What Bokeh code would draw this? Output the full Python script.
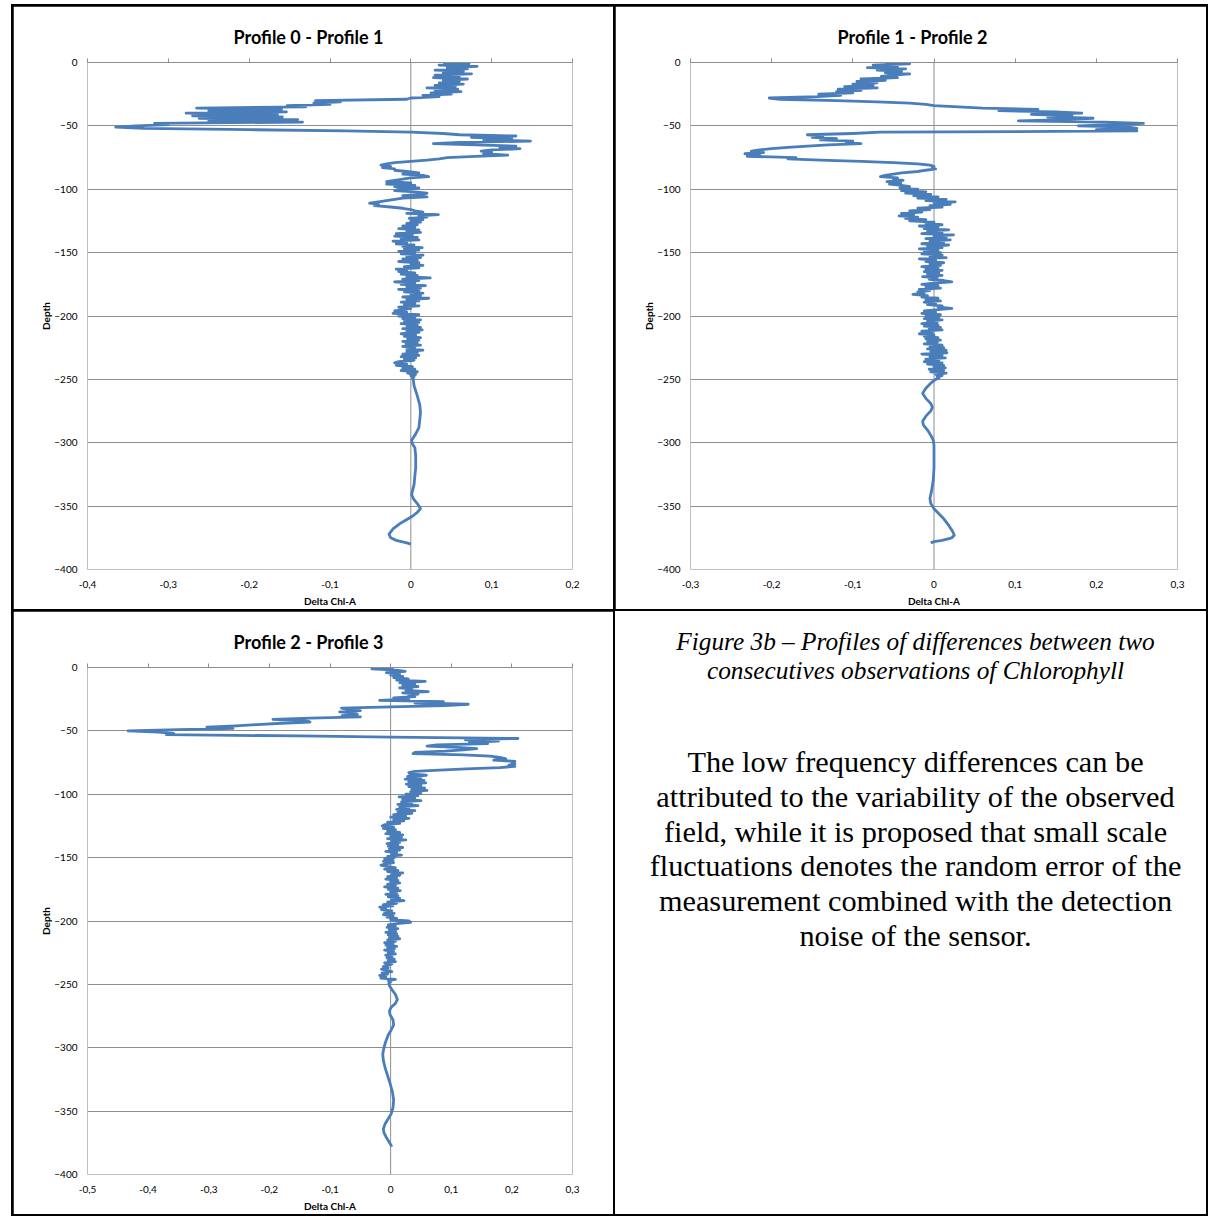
from bokeh.plotting import figure
from bokeh.models import Span, FixedTicker, CustomJSTickFormatter, LinearAxis, Range1d, Div
from bokeh.layouts import row, column
from bokeh.embed import file_html
from bokeh.resources import INLINE

# ---------------- data (depth [m], delta Chl-A) ----------------
profile_0_1 = [
    (0, 0.040), (-1, 0.072), (-2, 0.035), (-3, 0.082), (-4, 0.045), (-5, 0.070), (-6, 0.030), (-7, 0.065), (-8, 0.040), (-9, 0.075),
    (-10, 0.030), (-11, 0.060), (-12, 0.028), (-13, 0.070), (-14, 0.040), (-15, 0.060), (-16, 0.035), (-17, 0.065), (-18, 0.030), (-19, 0.055),
    (-20, 0.020), (-21, 0.058), (-22, 0.030), (-23, 0.062), (-24, 0.025), (-25, 0.050), (-26, 0.015), (-27, 0.035), (-28, 0.000), (-29, -0.005),
    (-30, -0.118), (-31, -0.087), (-32, -0.120), (-33, -0.100), (-34, -0.153), (-35, -0.130), (-36, -0.265), (-37, -0.160), (-38, -0.250), (-39, -0.154),
    (-40, -0.278), (-41, -0.165), (-42, -0.270), (-43, -0.159), (-44, -0.262), (-45, -0.140), (-46, -0.250), (-47, -0.134), (-48, -0.317), (-49, -0.300),
    (-50, -0.340), (-51, -0.365), (-52, -0.330), (-53, -0.200), (-54, -0.080), (-55, 0.000), (-56, 0.040), (-57, 0.060), (-58, 0.130), (-59, 0.075),
    (-60, 0.125), (-61, 0.090), (-62, 0.148), (-63, 0.060), (-64, 0.028), (-65, 0.080), (-66, 0.130), (-67, 0.110), (-68, 0.135), (-69, 0.100),
    (-70, 0.087), (-71, 0.100), (-72, 0.090), (-73, 0.120), (-74, 0.080), (-75, 0.045), (-76, 0.035), (-77, 0.020), (-78, 0.000), (-79, -0.020),
    (-80, -0.030), (-81, -0.037), (-82, -0.025), (-83, -0.035), (-84, -0.020), (-85, -0.020), (-86, -0.005), (-87, 0.010), (-88, -0.010), (-89, 0.015),
    (-90, 0.022), (-91, 0.000), (-92, -0.010), (-93, -0.020), (-94, -0.030), (-95, 0.000), (-96, -0.030), (-97, 0.005), (-98, -0.020), (-99, 0.010),
    (-100, -0.015), (-101, -0.020), (-102, 0.005), (-103, 0.020), (-104, 0.015), (-105, -0.010), (-106, 0.020), (-107, -0.010), (-108, -0.020), (-109, -0.030),
    (-110, -0.040), (-111, -0.051), (-112, -0.040), (-113, -0.045), (-114, -0.025), (-115, -0.010), (-116, 0.000), (-117, 0.005), (-118, 0.015), (-119, -0.005),
    (-120, 0.034), (-121, 0.010), (-122, 0.020), (-123, -0.002), (-124, 0.015), (-125, 0.000), (-126, 0.012), (-127, -0.005), (-128, 0.008), (-129, -0.010),
    (-130, 0.005), (-131, -0.015), (-132, 0.010), (-133, -0.005), (-134, 0.012), (-135, -0.018), (-136, 0.002), (-137, -0.020), (-138, 0.008), (-139, -0.012),
    (-140, 0.010), (-141, -0.022), (-142, -0.005), (-143, -0.018), (-144, 0.004), (-145, -0.010), (-146, 0.014), (-147, -0.008), (-148, 0.010), (-149, -0.015),
    (-150, 0.005), (-151, -0.012), (-152, 0.015), (-153, -0.005), (-154, 0.012), (-155, -0.010), (-156, 0.008), (-157, -0.015), (-158, 0.010), (-159, 0.000),
    (-160, 0.015), (-161, -0.008), (-162, 0.010), (-163, -0.018), (-164, -0.005), (-165, -0.015), (-166, 0.005), (-167, -0.012), (-168, 0.008), (-169, -0.005),
    (-170, 0.024), (-171, -0.010), (-172, 0.010), (-173, -0.020), (-174, 0.005), (-175, -0.012), (-176, 0.018), (-177, -0.005), (-178, 0.012), (-179, -0.015),
    (-180, 0.010), (-181, -0.008), (-182, 0.015), (-183, 0.000), (-184, 0.012), (-185, -0.010), (-186, 0.022), (-187, -0.005), (-188, 0.010), (-189, -0.012),
    (-190, 0.005), (-191, -0.008), (-192, 0.010), (-193, -0.015), (-194, 0.000), (-195, -0.010), (-196, -0.020), (-197, -0.005), (-198, -0.022), (-199, 0.010),
    (-200, -0.015), (-201, 0.005), (-202, -0.010), (-203, 0.012), (-204, -0.008), (-205, 0.010), (-206, -0.012), (-207, 0.008), (-208, -0.005), (-209, 0.012),
    (-210, -0.010), (-211, 0.014), (-212, -0.005), (-213, 0.010), (-214, -0.012), (-215, 0.006), (-216, -0.008), (-217, 0.012), (-218, -0.004), (-219, 0.010),
    (-220, -0.010), (-221, 0.008), (-222, -0.006), (-223, 0.012), (-224, -0.010), (-225, 0.005), (-226, -0.005), (-227, 0.015), (-228, -0.005), (-229, 0.008),
    (-230, -0.010), (-231, 0.010), (-232, -0.012), (-233, 0.006), (-234, -0.008), (-235, 0.004), (-236, -0.015), (-237, -0.020), (-238, -0.005), (-239, -0.018),
    (-240, 0.002), (-241, -0.010), (-242, 0.005), (-243, -0.012), (-244, 0.008), (-245, -0.004), (-246, 0.006), (-247, 0.000), (-248, 0.004), (-249, 0.002),
    (-250, 0.003), (-255, 0.004), (-263, 0.008), (-270, 0.011), (-276, 0.012), (-282, 0.011), (-288, 0.010), (-293, 0.006), (-298, 0.001), (-301, 0.002),
    (-304, 0.005), (-310, 0.006), (-320, 0.006), (-326, 0.005), (-333, 0.004), (-338, 0.002), (-341, 0.001), (-344, 0.003), (-348, 0.008), (-352, 0.012),
    (-355, 0.008), (-358, 0.002), (-361, -0.006), (-364, -0.014), (-368, -0.022), (-372, -0.027), (-375, -0.025), (-377, -0.018), (-379, -0.005), (-380, 0.000),
]

profile_1_2 = [
    (0, -0.060), (-1, -0.030), (-2, -0.075), (-3, -0.045), (-4, -0.082), (-5, -0.035), (-6, -0.070), (-7, -0.040), (-8, -0.060), (-9, -0.030),
    (-10, -0.050), (-11, -0.065), (-12, -0.045), (-13, -0.090), (-14, -0.060), (-15, -0.095), (-16, -0.070), (-17, -0.100), (-18, -0.075), (-19, -0.110),
    (-20, -0.070), (-21, -0.118), (-22, -0.090), (-23, -0.120), (-24, -0.100), (-25, -0.142), (-26, -0.115), (-27, -0.144), (-28, -0.203), (-29, -0.190),
    (-30, -0.120), (-31, -0.070), (-32, -0.030), (-33, -0.010), (-34, 0.000), (-35, 0.030), (-36, 0.060), (-37, 0.128), (-38, 0.080), (-39, 0.150),
    (-40, 0.182), (-41, 0.120), (-42, 0.170), (-43, 0.140), (-44, 0.196), (-45, 0.160), (-46, 0.104), (-47, 0.210), (-48, 0.258), (-49, 0.220),
    (-50, 0.178), (-51, 0.240), (-52, 0.250), (-53, 0.200), (-54, 0.250), (-55, -0.066), (-56, -0.100), (-57, -0.156), (-58, -0.137), (-59, -0.150),
    (-60, -0.120), (-61, -0.140), (-62, -0.100), (-63, -0.108), (-64, -0.090), (-65, -0.130), (-66, -0.156), (-67, -0.180), (-68, -0.200), (-69, -0.215),
    (-70, -0.225), (-71, -0.210), (-72, -0.233), (-73, -0.215), (-74, -0.230), (-75, -0.170), (-76, -0.180), (-77, -0.140), (-78, -0.090), (-79, -0.050),
    (-80, -0.020), (-81, -0.005), (-82, 0.000), (-83, -0.002), (-84, 0.002), (-85, -0.010), (-86, -0.020), (-87, -0.040), (-88, -0.050), (-89, -0.060),
    (-90, -0.066), (-91, -0.045), (-92, -0.050), (-93, -0.038), (-94, -0.058), (-95, -0.041), (-96, -0.055), (-97, -0.040), (-98, -0.030), (-99, -0.042),
    (-100, -0.020), (-101, -0.040), (-102, -0.010), (-103, -0.035), (-104, -0.004), (-105, -0.025), (-106, 0.005), (-107, -0.020), (-108, 0.015), (-109, -0.010),
    (-110, 0.026), (-111, 0.000), (-112, 0.020), (-113, -0.005), (-114, 0.010), (-115, -0.020), (-116, -0.005), (-117, -0.030), (-118, -0.015), (-119, -0.040),
    (-120, -0.025), (-121, -0.043), (-122, -0.020), (-123, -0.035), (-124, -0.010), (-125, -0.030), (-126, 0.000), (-127, -0.010), (-128, 0.010), (-129, -0.018),
    (-130, 0.005), (-131, -0.012), (-132, 0.018), (-133, -0.008), (-134, 0.010), (-135, -0.015), (-136, 0.024), (-137, 0.000), (-138, 0.015), (-139, -0.010),
    (-140, 0.020), (-141, -0.005), (-142, 0.012), (-143, -0.015), (-144, 0.018), (-145, -0.008), (-146, 0.010), (-147, -0.018), (-148, 0.005), (-149, -0.012),
    (-150, 0.008), (-151, -0.015), (-152, 0.010), (-153, -0.005), (-154, 0.015), (-155, -0.018), (-156, 0.002), (-157, -0.010), (-158, 0.012), (-159, -0.005),
    (-160, 0.008), (-161, -0.015), (-162, 0.005), (-163, -0.010), (-164, 0.010), (-165, -0.012), (-166, 0.006), (-167, -0.008), (-168, 0.010), (-169, -0.014),
    (-170, 0.004), (-171, -0.006), (-172, 0.012), (-173, 0.022), (-174, 0.000), (-175, -0.015), (-176, 0.005), (-177, -0.010), (-178, 0.008), (-179, -0.018),
    (-180, -0.005), (-181, -0.020), (-182, -0.012), (-183, -0.026), (-184, -0.008), (-185, -0.015), (-186, 0.005), (-187, -0.010), (-188, 0.008), (-189, -0.012),
    (-190, 0.002), (-191, -0.008), (-192, 0.010), (-193, 0.005), (-194, 0.022), (-195, 0.005), (-196, -0.012), (-197, 0.002), (-198, -0.015), (-199, 0.008),
    (-200, -0.010), (-201, 0.006), (-202, -0.012), (-203, 0.010), (-204, -0.008), (-205, 0.004), (-206, -0.015), (-207, 0.005), (-208, -0.012), (-209, 0.008),
    (-210, -0.006), (-211, 0.010), (-212, -0.015), (-213, -0.002), (-214, -0.018), (-215, 0.000), (-216, -0.012), (-217, 0.005), (-218, -0.010), (-219, 0.008),
    (-220, -0.008), (-221, 0.004), (-222, -0.012), (-223, 0.010), (-224, -0.005), (-225, 0.012), (-226, -0.008), (-227, 0.015), (-228, -0.004), (-229, 0.016),
    (-230, -0.015), (-231, 0.010), (-232, -0.005), (-233, 0.014), (-234, -0.010), (-235, 0.006), (-236, -0.012), (-237, 0.010), (-238, -0.008), (-239, 0.012),
    (-240, 0.000), (-241, 0.014), (-242, -0.006), (-243, 0.012), (-244, -0.004), (-245, 0.015), (-246, 0.002), (-247, 0.010), (-248, 0.004), (-249, 0.006),
    (-250, 0.002), (-253, -0.004), (-257, -0.010), (-261, -0.014), (-265, -0.010), (-269, -0.004), (-272, -0.002), (-275, -0.004), (-279, -0.010), (-283, -0.014),
    (-286, -0.013), (-290, -0.008), (-294, -0.004), (-298, -0.001), (-302, 0.000), (-310, 0.000), (-320, 0.000), (-330, -0.001), (-338, -0.003), (-344, -0.005),
    (-348, -0.004), (-352, 0.000), (-356, 0.006), (-360, 0.012), (-365, 0.018), (-370, 0.023), (-373, 0.025), (-375, 0.022), (-377, 0.010), (-378, 0.000),
    (-379, -0.004),
]

profile_2_3 = [
    (0, 0.005), (-1, -0.031), (-2, 0.010), (-3, 0.024), (-4, -0.007), (-5, 0.015), (-6, 0.000), (-7, 0.020), (-8, 0.005), (-9, 0.029),
    (-10, 0.010), (-11, 0.057), (-12, 0.015), (-13, 0.040), (-14, 0.020), (-15, 0.045), (-16, 0.015), (-17, 0.035), (-18, 0.025), (-19, 0.062),
    (-20, 0.020), (-21, 0.045), (-22, 0.030), (-23, 0.040), (-24, 0.005), (-25, 0.030), (-26, -0.018), (-27, 0.087), (-28, 0.040), (-29, 0.128),
    (-30, 0.090), (-31, 0.000), (-32, -0.081), (-33, -0.070), (-34, -0.050), (-35, -0.084), (-36, -0.060), (-37, -0.055), (-38, -0.080), (-39, -0.050),
    (-40, -0.133), (-41, -0.194), (-42, -0.140), (-43, -0.133), (-44, -0.180), (-45, -0.220), (-46, -0.255), (-47, -0.303), (-48, -0.260), (-49, -0.350),
    (-50, -0.433), (-51, -0.383), (-52, -0.358), (-53, -0.370), (-54, -0.150), (-55, 0.000), (-56, 0.210), (-57, 0.123), (-58, 0.178), (-59, 0.130),
    (-60, 0.160), (-61, 0.076), (-62, 0.060), (-63, 0.110), (-64, 0.142), (-65, 0.120), (-66, 0.090), (-67, 0.040), (-68, 0.037), (-69, 0.120),
    (-70, 0.164), (-71, 0.180), (-72, 0.190), (-73, 0.170), (-74, 0.205), (-75, 0.200), (-76, 0.205), (-77, 0.195), (-78, 0.205), (-79, 0.180),
    (-80, 0.125), (-81, 0.080), (-82, 0.040), (-83, 0.030), (-84, 0.032), (-85, 0.059), (-86, 0.028), (-87, 0.050), (-88, 0.024), (-89, 0.055),
    (-90, 0.030), (-91, 0.058), (-92, 0.026), (-93, 0.050), (-94, 0.030), (-95, 0.056), (-96, 0.035), (-97, 0.060), (-98, 0.033), (-99, 0.050),
    (-100, 0.025), (-101, 0.045), (-102, 0.014), (-103, 0.040), (-104, 0.020), (-105, 0.050), (-106, 0.018), (-107, 0.035), (-108, 0.012), (-109, 0.045),
    (-110, 0.015), (-111, 0.030), (-112, 0.010), (-113, 0.040), (-114, 0.012), (-115, 0.035), (-116, 0.005), (-117, 0.025), (-118, 0.000), (-119, 0.030),
    (-120, 0.005), (-121, 0.022), (-122, -0.005), (-123, 0.015), (-124, -0.010), (-125, -0.014), (-126, 0.005), (-127, -0.012), (-128, 0.008), (-129, -0.005),
    (-130, 0.015), (-131, -0.008), (-132, 0.020), (-133, 0.000), (-134, 0.018), (-135, -0.005), (-136, 0.025), (-137, 0.002), (-138, 0.015), (-139, -0.006),
    (-140, 0.012), (-141, -0.004), (-142, 0.020), (-143, -0.002), (-144, 0.015), (-145, -0.008), (-146, 0.010), (-147, 0.002), (-148, 0.018), (-149, -0.005),
    (-150, 0.006), (-151, -0.010), (-152, 0.004), (-153, -0.012), (-154, 0.005), (-155, -0.008), (-156, -0.016), (-157, -0.005), (-158, 0.008), (-159, -0.010),
    (-160, 0.012), (-161, -0.005), (-162, 0.020), (-163, 0.002), (-164, 0.015), (-165, -0.005), (-166, 0.010), (-167, -0.008), (-168, 0.012), (-169, 0.000),
    (-170, 0.015), (-171, -0.005), (-172, 0.008), (-173, -0.010), (-174, 0.012), (-175, -0.004), (-176, 0.016), (-177, 0.000), (-178, 0.010), (-179, -0.008),
    (-180, 0.012), (-181, -0.004), (-182, 0.015), (-183, 0.002), (-184, 0.022), (-185, -0.005), (-186, 0.010), (-187, -0.012), (-188, 0.004), (-189, -0.018),
    (-190, -0.008), (-191, -0.015), (-192, 0.002), (-193, -0.010), (-194, 0.006), (-195, -0.012), (-196, 0.004), (-197, -0.006), (-198, 0.010), (-199, 0.000),
    (-200, 0.030), (-201, 0.033), (-202, 0.010), (-203, -0.004), (-204, 0.008), (-205, -0.006), (-206, 0.012), (-207, -0.002), (-208, 0.008), (-209, -0.008),
    (-210, 0.010), (-211, -0.004), (-212, 0.012), (-213, -0.002), (-214, 0.015), (-215, -0.005), (-216, 0.008), (-217, -0.010), (-218, 0.004), (-219, -0.008),
    (-220, 0.010), (-221, -0.005), (-222, 0.006), (-223, -0.010), (-224, 0.005), (-225, -0.004), (-226, 0.008), (-227, -0.008), (-228, 0.002), (-229, -0.006),
    (-230, 0.006), (-231, -0.004), (-232, 0.008), (-233, -0.010), (-234, 0.002), (-235, -0.006), (-236, -0.012), (-237, -0.004), (-238, -0.015), (-239, -0.006),
    (-240, 0.002), (-241, -0.014), (-242, -0.005), (-243, -0.018), (-244, -0.008), (-245, -0.016), (-246, 0.008), (-247, -0.004), (-248, 0.000), (-249, -0.003),
    (-251, -0.002), (-254, 0.002), (-258, 0.008), (-262, 0.011), (-265, 0.008), (-268, 0.001), (-271, -0.002), (-274, -0.001), (-278, 0.004), (-282, 0.005),
    (-286, 0.001), (-290, -0.004), (-295, -0.008), (-300, -0.011), (-305, -0.013), (-310, -0.012), (-316, -0.009), (-322, -0.005), (-328, -0.001), (-335, 0.003),
    (-341, 0.005), (-347, 0.004), (-352, 0.001), (-356, -0.004), (-360, -0.009), (-364, -0.012), (-367, -0.011), (-370, -0.008), (-374, -0.003), (-378, 0.002),
]

chart_titles = ["Profile 0 - Profile 1", "Profile 1 - Profile 2", "Profile 2 - Profile 3"]
x_ticks_0_1 = [-0.4, -0.3, -0.2, -0.1, 0, 0.1, 0.2]
x_ticks_1_2 = [-0.3, -0.2, -0.1, 0, 0.1, 0.2, 0.3]
x_ticks_2_3 = [-0.5, -0.4, -0.3, -0.2, -0.1, 0, 0.1, 0.2, 0.3]
depth_ticks = [0, -50, -100, -150, -200, -250, -300, -350, -400]
x_axis_title = "Delta Chl-A"
y_axis_title = "Depth"

caption = "Figure 3b \u2013 Profiles of differences between two<br>consecutives observations of Chlorophyll"
body_text = ("The low frequency differences can be<br>attributed to the variability of the observed<br>"
             "field, while it is proposed that small scale<br>fluctuations denotes the random error of the<br>"
             "measurement combined with the detection<br>noise of the sensor.")

# ---------------- styling ----------------
LINE_COLOR = "#4A7EBB"
GRID_COLOR = "#8E8E8E"
FONT = "Lato"


def make_chart(title, pairs, xticks, width, height, ml, mr, mt, mb, title_offset):
    depth = [d for d, v in pairs]
    delta = [v for d, v in pairs]
    p = figure(width=width, height=height,
               x_range=Range1d(xticks[0], xticks[-1]), y_range=Range1d(-400, 0),
               output_backend="svg", toolbar_location=None,
               min_border_left=ml, min_border_right=mr, min_border_top=mt, min_border_bottom=mb,
               background_fill_color="white", border_fill_color="white",
               outline_line_color=None, title=title)
    p.title.align = "left"
    p.title.offset = title_offset
    p.title.text_font = FONT
    p.title.text_font_size = "18px"
    p.title.text_font_style = "bold"
    p.title.text_color = "#000000"
    p.title.standoff = 22

    fmt = CustomJSTickFormatter(code="""
        if (Math.abs(tick) < 1e-9) { return '0'; }
        return tick.toFixed(1).replace('.', ',');
    """)
    xa = p.xaxis[0]
    xa.ticker = FixedTicker(ticks=xticks, minor_ticks=[])
    xa.formatter = fmt
    xa.axis_line_color = None
    xa.major_tick_line_color = None
    xa.minor_tick_line_color = None
    xa.major_tick_in = 0
    xa.major_tick_out = 0
    xa.minor_tick_in = 0
    xa.minor_tick_out = 0
    xa.major_label_text_font = FONT
    xa.major_label_text_font_size = "10px"
    xa.major_label_text_color = "#000000"
    xa.major_label_standoff = 11
    xa.axis_label = x_axis_title
    xa.axis_label_text_font = FONT
    xa.axis_label_text_font_size = "10px"
    xa.axis_label_text_font_style = "bold"
    xa.axis_label_text_color = "#000000"
    xa.axis_label_standoff = 4

    ya = p.yaxis[0]
    ya.ticker = FixedTicker(ticks=depth_ticks, minor_ticks=[])
    ya.axis_line_color = None
    ya.major_tick_line_color = None
    ya.minor_tick_line_color = None
    ya.major_tick_in = 0
    ya.major_tick_out = 0
    ya.minor_tick_in = 0
    ya.minor_tick_out = 0
    ya.major_label_text_font = FONT
    ya.major_label_text_font_size = "10px"
    ya.major_label_text_color = "#000000"
    ya.major_label_standoff = 10
    ya.axis_label = y_axis_title
    ya.axis_label_text_font = FONT
    ya.axis_label_text_font_size = "10px"
    ya.axis_label_text_font_style = "bold"
    ya.axis_label_text_color = "#000000"
    ya.axis_label_standoff = -1

    top = LinearAxis(ticker=FixedTicker(ticks=xticks, minor_ticks=[]),
                     formatter=CustomJSTickFormatter(code="return '';"),
                     major_label_text_font_size="1px",
                     axis_line_color=GRID_COLOR, major_tick_line_color=GRID_COLOR,
                     major_tick_in=0, major_tick_out=4, minor_tick_line_color=None,
                     minor_tick_in=0, minor_tick_out=0, major_label_standoff=0)
    p.add_layout(top, "above")

    p.xgrid.grid_line_color = None
    p.ygrid.grid_line_color = GRID_COLOR
    p.ygrid.grid_line_width = 1

    p.add_layout(Span(location=0, dimension="height", line_color=GRID_COLOR,
                      line_width=1, level="underlay"))
    p.line(delta, depth, line_color=LINE_COLOR, line_width=2.8, line_join="round")
    return p


p1 = make_chart(chart_titles[0], profile_0_1, x_ticks_0_1, 600, 603, 74, 41, 56, 39, 146)
p2 = make_chart(chart_titles[1], profile_1_2, x_ticks_1_2, 591, 603, 75, 29, 54, 40, 147)
p3 = make_chart(chart_titles[2], profile_2_3, x_ticks_2_3, 600, 603, 74, 41, 56, 38, 146)

html = (
    '<div style="box-sizing:border-box;width:591px;padding:16px 0 0 10px;text-align:center;'
    'font-family:\'Liberation Serif\',serif;color:#000;">'
    '<div style="font-style:italic;font-size:25.3px;line-height:29px;">' + caption + '</div>'
    '<div style="font-size:30.3px;line-height:34.8px;margin-top:60px;">' + body_text + '</div>'
    '</div>'
)
text_cell = Div(text=html, width=591, height=603, margin=0,
                styles={"background-color": "white"})

top_row = row(p1, p2, spacing=2)
bottom_row = row(p3, text_cell, spacing=2)
layout = column(top_row, bottom_row, spacing=2,
                styles={"background-color": "black", "padding": "2px"},
                margin=(4, 0, 0, 11))

open("out.html", "w").write(file_html(layout, INLINE))
